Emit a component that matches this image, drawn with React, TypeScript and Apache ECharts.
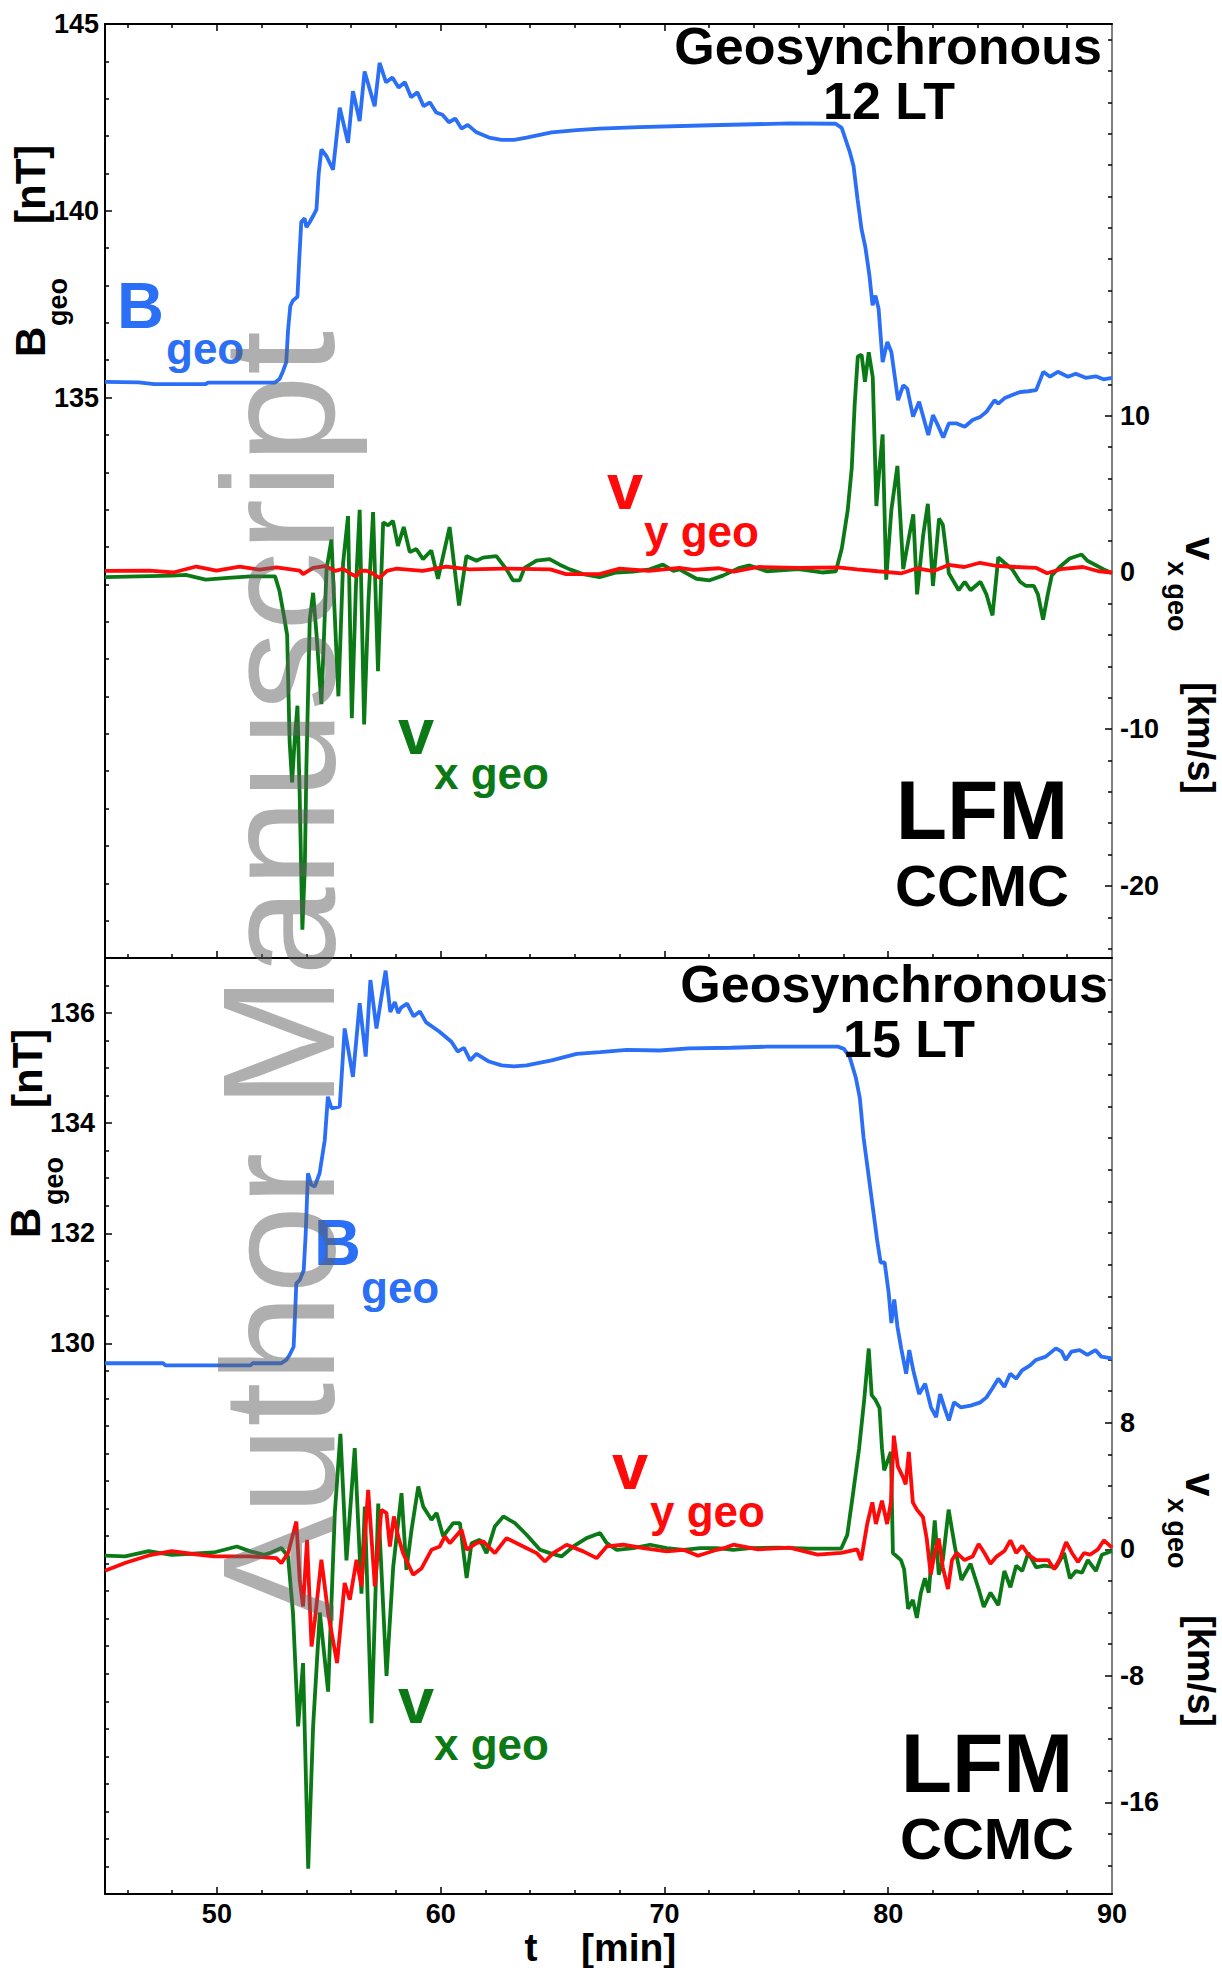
import React, { useEffect, useRef } from "react";
import * as echarts from "echarts";

// ---------- data (t [min], value) ----------
const bGeo12: [number, number][] = [
  [45, 135.42], [46.5, 135.41], [47.2, 135.36], [49.5, 135.36], [49.6, 135.4], [52.58, 135.4], [52.8, 135.5],
  [52.95, 135.7], [53.1, 135.95], [53.18, 136.8], [53.28, 137.45], [53.4, 137.6], [53.6, 137.7], [53.68, 138.7],
  [53.77, 139.7], [53.92, 139.8], [54.0, 139.56], [54.15, 139.7], [54.3, 139.86], [54.45, 140.04], [54.55, 141.0],
  [54.67, 141.64], [54.9, 141.46], [55.19, 141.1], [55.49, 142.76], [55.86, 141.82], [56.08, 143.2], [56.38, 142.4],
  [56.6, 143.73], [57.05, 142.8], [57.27, 143.96], [57.56, 143.44], [57.84, 143.57], [58.12, 143.3], [58.4, 143.44],
  [58.68, 143.04], [58.96, 143.17], [59.24, 142.8], [59.52, 142.9], [59.8, 142.63], [60.08, 142.57], [60.37, 142.37],
  [60.65, 142.47], [60.93, 142.2], [61.21, 142.3], [61.6, 142.1], [62.16, 141.96], [62.72, 141.9], [63.28, 141.9],
  [63.84, 141.96], [64.96, 142.1], [66.08, 142.16], [67.1, 142.2], [68.88, 142.24], [72.07, 142.29], [75.6, 142.34],
  [77.65, 142.33], [77.92, 142.22], [78.27, 141.6], [78.45, 141.2], [78.63, 140.31], [78.81, 139.5], [78.98, 139.02],
  [79.16, 138.27], [79.3, 137.47], [79.43, 137.73], [79.57, 137.38], [79.75, 135.95], [79.96, 136.49], [80.14, 136.22],
  [80.44, 134.93], [80.67, 135.33], [80.85, 135.24], [81.11, 134.49], [81.38, 134.89], [81.79, 134.0], [82.0, 134.53],
  [82.21, 134.27], [82.46, 133.93], [82.71, 134.31], [83.06, 134.31], [83.42, 134.22], [83.77, 134.4], [84.13, 134.49],
  [84.39, 134.62], [84.75, 134.93], [84.92, 134.84], [85.19, 134.98], [85.54, 135.07], [85.9, 135.15], [86.25, 135.17],
  [86.61, 135.2], [86.93, 135.69], [87.23, 135.56], [87.58, 135.69], [88.03, 135.56], [88.38, 135.64], [88.82, 135.53],
  [89.27, 135.57], [89.62, 135.49], [90, 135.53],
];

const vxGeo12: [number, number][] = [
  [45, -0.3], [46.5, -0.25], [48, -0.2], [48.6, -0.15], [49.5, -0.45], [50.5, -0.35], [51.5, -0.25], [52.6, -0.25],
  [52.8, -1.2], [53.0, -2.8], [53.14, -4.0], [53.25, -10.8], [53.36, -13.4], [53.48, -10.6], [53.6, -8.5], [53.7, -14.2],
  [53.82, -22.8], [53.93, -18.8], [54.0, -12.4], [54.15, -3.0], [54.3, -1.3], [54.45, -3.9], [54.67, -8.4], [54.9, 0.2],
  [55.12, 2.1], [55.27, -2.8], [55.43, -7.9], [55.64, 0.6], [55.86, 3.6], [56.03, -9.3], [56.21, -1.0], [56.38, 4.0],
  [56.58, -9.7], [56.77, -1.9], [56.98, 3.85], [57.2, -6.3], [57.43, 3.2], [57.65, 3.0], [57.87, 3.3], [58.09, 1.7],
  [58.35, 2.9], [58.62, 1.3], [58.91, 1.5], [59.21, 0.85], [59.58, 1.4], [59.88, -0.4], [60.4, 2.9], [60.82, -2.1],
  [61.15, 1.05], [61.6, 0.75], [61.89, 0.95], [62.49, 1.05], [62.94, 0.2], [63.23, -0.5], [63.53, -0.5], [63.75, 0.3],
  [64.28, 0.75], [64.87, 0.85], [65.32, 0.5], [65.77, 0.2], [66.36, -0.1], [67.1, -0.3], [67.85, 0.0], [68.6, 0.05],
  [69.34, 0.2], [69.93, 0.5], [70.4, 0.1], [70.67, 0.2], [71.43, -0.4], [72.02, -0.5], [72.61, -0.2], [73.36, 0.3],
  [73.8, 0.45], [74.57, 0.08], [75.98, 0.21], [77.04, 0.0], [77.66, 0.08], [77.93, 1.56], [78.19, 3.98], [78.37, 6.66],
  [78.5, 10.7], [78.64, 13.78], [78.81, 13.9], [78.96, 12.17], [79.13, 14.05], [79.31, 12.44], [79.47, 4.24],
  [79.61, 6.66], [79.75, 8.81], [79.91, -0.46], [80.14, 3.98], [80.41, 6.8], [80.67, 0.21], [80.94, 2.36], [81.12, 3.71],
  [81.29, -1.4], [81.56, 2.36], [81.77, 4.38], [82.0, -0.86], [82.27, 3.44], [82.44, 3.04], [82.71, -0.05], [83.15, -1.13],
  [83.42, -0.59], [83.68, -1.13], [84.12, -0.59], [84.39, -1.4], [84.66, -2.74], [84.92, 0.97], [85.19, 0.62],
  [85.54, 0.21], [85.89, -0.59], [86.16, -0.86], [86.51, -0.86], [86.69, -1.4], [86.92, -3.01], [87.13, -1.4],
  [87.31, -0.19], [87.66, 0.35], [88.11, 0.89], [88.37, 1.02], [88.64, 1.15], [88.9, 0.75], [89.26, 0.48], [89.61, 0.21],
  [90, -0.05],
];

const vyGeo12: [number, number][] = [
  [45, 0.1], [47, 0.12], [48.05, 0.0], [49.08, 0.38], [49.98, 0.12], [51.02, 0.38], [51.9, 0.18], [52.66, 0.32],
  [53.3, 0.2], [53.7, 0.12], [53.85, -0.1], [54.3, 0.3], [54.82, 0.41], [55.3, 0.1], [55.64, 0.24], [56.0, -0.1],
  [56.23, -0.25], [56.4, 0.1], [56.68, 0.12], [57.0, -0.1], [57.27, -0.35], [57.6, 0.1], [58.0, 0.24], [59.2, 0.1],
  [60.25, 0.38], [61.3, 0.2], [62.8, 0.25], [64.9, 0.2], [65.6, -0.1], [67.1, -0.1], [68.0, 0.25], [69.3, 0.1],
  [70.67, 0.3], [71.3, 0.17], [72.44, 0.27], [73.1, 0.05], [74.2, 0.35], [76, 0.3], [77.75, 0.32], [78.6, 0.2],
  [79.52, 0.08], [80.6, -0.05], [81.3, 0.27], [82.0, 0.08], [82.7, 0.48], [83.4, 0.35], [84.1, 0.62], [84.8, 0.43],
  [85.7, 0.35], [86.6, 0.3], [87.1, -0.05], [87.7, 0.21], [88.7, 0.35], [89.4, 0.08], [90, 0.0],
];

const bGeo15: [number, number][] = [
  [45, 129.64], [47.6, 129.64], [47.7, 129.6], [51.5, 129.6], [51.6, 129.64], [52.88, 129.64], [53.1, 129.7],
  [53.25, 129.79], [53.43, 129.94], [53.5, 130.6], [53.55, 131.09], [53.7, 131.15], [53.88, 131.33], [53.97, 132.0],
  [54.07, 133.09], [54.22, 132.88], [54.37, 132.85], [54.59, 133.09], [54.82, 133.69], [54.96, 134.48], [55.12, 134.27],
  [55.49, 134.3], [55.71, 135.72], [56.08, 134.84], [56.38, 136.18], [56.65, 135.21], [56.86, 136.6], [57.13, 135.72],
  [57.54, 136.77], [57.75, 136.02], [57.95, 136.2], [58.1, 136.0], [58.23, 136.1], [58.5, 136.17], [58.79, 135.94],
  [59.07, 136.03], [59.35, 135.83], [59.92, 135.67], [60.48, 135.48], [60.76, 135.3], [61.04, 135.37], [61.32, 135.14],
  [61.6, 135.26], [62.16, 135.12], [62.72, 135.05], [63.28, 135.03], [63.84, 135.05], [64.96, 135.14], [66.08, 135.26],
  [67.13, 135.29], [68.33, 135.33], [69.79, 135.32], [71.1, 135.36], [72.97, 135.37], [74.57, 135.39], [77.75, 135.39],
  [78.02, 135.35], [78.28, 135.2], [78.55, 134.83], [78.73, 134.46], [78.9, 133.73], [79.08, 133.18], [79.2, 132.81],
  [79.38, 132.26], [79.52, 131.83], [79.66, 131.47], [79.84, 131.47], [80.02, 130.92], [80.14, 130.37], [80.27, 130.8],
  [80.41, 130.31], [80.58, 129.91], [80.8, 129.45], [80.94, 129.88], [81.12, 129.51], [81.38, 129.08], [81.65, 129.27],
  [81.91, 128.84], [82.14, 128.66], [82.32, 129.08], [82.53, 128.81], [82.71, 128.6], [82.94, 128.93], [83.24, 128.84],
  [83.68, 128.87], [84.12, 128.93], [84.39, 129.02], [84.65, 129.18], [84.92, 129.36], [85.19, 129.21], [85.45, 129.45],
  [85.72, 129.36], [85.98, 129.51], [86.34, 129.6], [86.6, 129.7], [87.04, 129.76], [87.49, 129.91], [87.75, 129.85],
  [87.93, 129.7], [88.19, 129.85], [88.55, 129.88], [88.9, 129.79], [89.26, 129.88], [89.52, 129.76], [90, 129.73],
];

const vxGeo15: [number, number][] = [
  [45, -0.4], [45.9, -0.45], [46.95, -0.12], [47.98, -0.35], [49.86, -0.2], [50.89, 0.18], [51.5, -0.13], [52.1, -0.35],
  [52.36, -0.24], [52.88, 0.08], [53.18, -0.45], [53.4, -4.0], [53.63, -11.2], [53.85, -7.2], [54.08, -20.2],
  [54.3, -11.2], [54.6, -4.0], [54.97, -9.0], [55.27, 2.3], [55.52, 7.3], [55.79, -0.7], [56.16, 6.4], [56.46, -2.8],
  [56.61, 2.7], [56.91, -11.0], [57.21, 2.9], [57.58, -8.0], [57.88, -1.1], [58.25, 3.55], [58.47, -1.3], [58.7, 1.25],
  [59.0, 3.97], [59.22, 2.7], [59.59, 1.87], [59.82, 2.3], [60.11, 0.82], [60.56, 1.66], [60.86, 1.66], [61.16, -1.82],
  [61.38, 0.39], [61.75, 0.6], [62.05, -0.24], [62.42, 1.45], [62.8, 2.08], [63.32, 1.66], [63.84, 0.92], [64.44, -0.03],
  [64.88, -0.24], [65.4, -0.45], [65.93, 0.18], [66.52, 0.71], [67.12, 1.03], [67.42, 0.39], [67.87, -0.03], [68.61, 0.08],
  [69.36, 0.29], [70.1, 0.08], [70.85, -0.03], [71.59, 0.08], [72.34, 0.08], [73.08, -0.03], [73.83, 0.08], [75.06, 0.11],
  [76.5, 0.05], [77.9, 0.05], [78.17, 0.91], [78.44, 3.65], [78.7, 6.4], [78.93, 9.5], [79.13, 12.7], [79.26, 9.75],
  [79.43, 9.45], [79.61, 8.94], [79.72, 6.4], [79.82, 5.0], [80.12, 6.16], [80.21, -0.23], [80.57, -0.68], [80.71, -1.26],
  [80.89, -3.77], [81.1, -3.2], [81.28, -4.34], [81.46, -2.74], [81.64, -1.83], [81.81, -2.74], [82.08, 1.83],
  [82.26, -1.6], [82.44, -0.68], [82.7, 2.51], [82.97, 0.23], [83.27, -1.94], [83.68, -0.91], [84.04, -2.51],
  [84.27, -3.65], [84.57, -2.74], [84.92, -3.54], [85.19, -1.37], [85.46, -2.4], [85.72, -1.03], [85.99, -1.37],
  [86.26, -0.23], [86.61, -1.14], [86.97, -1.03], [87.5, -1.14], [87.86, -0.23], [88.12, -1.83], [88.39, -1.37],
  [88.66, -1.48], [88.92, -0.68], [89.28, -1.37], [89.55, -0.34], [90, -0.11],
];

const vyGeo15: [number, number][] = [
  [45, -1.35], [45.92, -0.85], [46.95, -0.39], [47.98, -0.12], [48.84, -0.28], [49.86, -0.44], [51.47, -0.45],
  [52.66, -0.56], [52.88, -0.87], [53.18, -0.24], [53.55, 1.76], [53.7, -1.92], [53.85, -3.61], [54.03, 0.6],
  [54.23, -6.14], [54.38, -4.45], [54.67, -0.66], [54.97, -4.03], [55.37, -7.19], [55.71, -2.13], [55.94, -3.19],
  [56.24, -0.66], [56.46, -2.34], [56.76, 3.76], [57.06, -2.34], [57.35, 2.5], [57.58, 2.29], [57.73, 0.18], [57.91, 2.08],
  [58.1, 0.82], [58.32, -0.24], [58.77, -1.61], [59.15, -1.19], [59.59, -0.03], [59.96, 0.18], [60.19, 0.82],
  [60.41, 0.39], [60.93, 1.24], [61.16, -0.03], [61.6, 0.39], [61.9, 0.5], [62.42, -0.24], [62.94, 0.71], [63.69, 0.18],
  [64.29, -0.24], [64.66, -0.77], [65.03, -0.24], [65.63, 0.29], [66.37, -0.13], [66.97, -0.56], [67.42, 0.18],
  [68.16, 0.29], [69.06, 0.08], [70.1, -0.13], [70.85, -0.03], [71.5, -0.41], [72.34, -0.03], [72.75, 0.11], [73.08, 0.29],
  [74.17, 0], [75.59, 0.11], [76.84, -0.34], [77.9, -0.23], [78.61, 0], [78.79, -0.68], [79.06, 1.6], [79.29, 2.97],
  [79.45, 1.6], [79.72, 3.08], [79.95, 1.6], [80.12, 2.97], [80.25, 7.19], [80.43, 5.25], [80.66, 4.57], [80.78, 4.11],
  [80.92, 6.16], [81.1, 2.97], [81.28, 2.51], [81.55, 2.05], [81.72, 0.68], [81.9, -1.6], [82.08, -0.23], [82.26, 0.68],
  [82.44, -1.14], [82.67, -2.51], [82.85, -0.68], [83.06, -0.23], [83.41, -0.68], [83.77, -0.46], [84.04, 0.34],
  [84.3, -0.23], [84.57, -0.91], [84.84, -0.46], [85.19, -0.11], [85.46, 0.57], [85.72, -0.23], [85.99, 0.23],
  [86.26, -0.34], [86.61, -0.68], [87.15, -0.68], [87.42, -1.26], [87.68, -0.57], [87.95, 0.46], [88.21, -0.23],
  [88.48, -0.8], [88.75, -0.23], [89.02, -0.34], [89.37, 0], [89.64, 0.57], [90, 0.11],
];

// ---------- tick labels ----------
const xLabels = [50, 60, 70, 80, 90];
const xMajor = [50, 60, 70, 80];
const b12Labels = [135, 140, 145];
const v12Labels = [-20, -10, 0, 10];
const b15Labels = [130, 132, 134, 136];
const v15Labels = [-16, -8, 0, 8];

const range = (a: number, b: number, s: number) => {
  const out: number[] = [];
  for (let v = a; v <= b + 1e-9; v += s) out.push(Math.round(v * 100) / 100);
  return out;
};

const FONT = '"Liberation Sans", Arial, Helvetica, sans-serif';
const BLUE = "#2a6ff6";
const GREEN = "#0b7a16";
const RED = "#ff0a0a";

function xAx(grid: number, position: string, ticks: number[], len: number, line: boolean, labels?: number[]) {
  return {
    type: "value", gridIndex: grid, position, min: 45, max: 90,
    axisLine: { show: line, onZero: false, lineStyle: { color: "#000", width: 2 } },
    axisTick: { show: true, inside: true, length: len, customValues: ticks, lineStyle: { color: "#000", width: 1.5 } },
    axisLabel: labels
      ? { show: true, customValues: labels, fontSize: 27, fontWeight: "bold", fontFamily: FONT, color: "#000", margin: 6 }
      : { show: false },
    splitLine: { show: false },
  };
}

function yAx(grid: number, position: string, min: number, max: number, ticks: number[], len: number, line: boolean,
  lineColor: string, labels?: number[], margin = 6) {
  return {
    type: "value", gridIndex: grid, position, min, max,
    axisLine: { show: line, onZero: false, lineStyle: { color: lineColor, width: 2 } },
    axisTick: { show: true, inside: true, length: len, customValues: ticks, lineStyle: { color: "#000", width: 1.5 } },
    axisLabel: labels
      ? { show: true, customValues: labels, fontSize: 27, fontWeight: "bold", fontFamily: FONT, color: "#000", margin }
      : { show: false },
    splitLine: { show: false },
  };
}

function txt(text: string, x: number, y: number, size: number, color: string, align = "left", rotation = 0) {
  return {
    type: "text", x, y, rotation, z: 50, silent: true,
    style: { text, fill: color, fontSize: size, fontWeight: "bold", fontFamily: FONT, align, verticalAlign: "middle" },
  };
}

const line = (data: [number, number][], xi: number, yi: number, color: string, z: number) => ({
  type: "line", xAxisIndex: xi, yAxisIndex: yi, data, showSymbol: false, symbol: "none", silent: true, z,
  lineStyle: { color, width: 3.8 }, itemStyle: { color }, animation: false,
});

export default function App() {
  const ref = useRef<HTMLDivElement>(null);
  useEffect(() => {
    if (!ref.current) return;
    const chart = echarts.init(ref.current, undefined, { renderer: "svg" });
    const xMinor = range(46, 88, 2).filter((v) => !xMajor.includes(v));
    const up = Math.PI / 2;
    const down = -Math.PI / 2;
    chart.setOption({
      animation: false,
      backgroundColor: "#fff",
      grid: [
        { left: 105, top: 24, width: 1007, height: 934, outerBoundsMode: "none" },
        { left: 105, top: 958, width: 1007, height: 936, outerBoundsMode: "none" },
      ],
      xAxis: [
        xAx(0, "bottom", xMajor, 7, true),
        xAx(0, "bottom", xMinor, 4, false),
        xAx(0, "top", xMajor, 7, true),
        xAx(0, "top", xMinor, 4, false),
        xAx(1, "bottom", xMajor, 7, true, xLabels),
        xAx(1, "bottom", xMinor, 4, false),
      ],
      yAxis: [
        yAx(0, "left", 120, 145, b12Labels, 7, true, "#000", b12Labels, 6),
        yAx(0, "left", 120, 145, range(120, 145, 1).filter((v) => !b12Labels.includes(v)), 4, false, "#000"),
        yAx(0, "right", -24.6, 35, v12Labels, 7, true, "#808080", v12Labels, 8),
        yAx(0, "right", -24.6, 35, range(-24, 34, 2).filter((v) => !v12Labels.includes(v)), 4, false, "#808080"),
        yAx(1, "left", 120, 137, b15Labels, 7, true, "#000", b15Labels, 10),
        yAx(1, "left", 120, 137, range(120, 137, 0.5).filter((v) => !b15Labels.includes(v)), 4, false, "#000"),
        yAx(1, "right", -21.8, 37.4, v15Labels, 7, true, "#808080", v15Labels, 8),
        yAx(1, "right", -21.8, 37.4, range(-20, 36, 2).filter((v) => !v15Labels.includes(v)), 4, false, "#808080"),
      ],
      series: [
        line(vxGeo12, 0, 2, GREEN, 2),
        line(vyGeo12, 0, 2, RED, 3),
        line(bGeo12, 0, 0, BLUE, 4),
        line(vxGeo15, 4, 6, GREEN, 2),
        line(vyGeo15, 4, 6, RED, 3),
        line(bGeo15, 4, 4, BLUE, 4),
      ],
      graphic: [
        // watermark
        {
          type: "text", x: 279, y: 976, rotation: up, z: 100, silent: true,
          style: {
            text: "Author Manuscript", fill: "rgba(95,95,95,0.5)", fontSize: 159, fontWeight: "normal",
            fontFamily: FONT, align: "center", verticalAlign: "middle",
          },
        },
        // panel 1 annotations
        txt("Geosynchronous", 1102, 46, 52, "#000", "right"),
        txt("12 LT", 889, 101, 52, "#000", "center"),
        txt("LFM", 982, 810, 84, "#000", "center"),
        txt("CCMC", 982, 885, 58, "#000", "center"),
        txt("B", 117, 305, 65, BLUE),
        txt("geo", 166, 348, 44, BLUE),
        txt("v", 607, 486, 65, RED),
        txt("y geo", 644, 531, 44, RED),
        txt("v", 398, 731, 65, GREEN),
        txt("x geo", 434, 773, 44, GREEN),
        // panel 2 annotations
        txt("Geosynchronous", 1108, 984, 52, "#000", "right"),
        txt("15 LT", 909, 1039, 52, "#000", "center"),
        txt("LFM", 987, 1763, 84, "#000", "center"),
        txt("CCMC", 987, 1838, 58, "#000", "center"),
        txt("B", 314, 1242, 65, BLUE),
        txt("geo", 361, 1287, 44, BLUE),
        txt("v", 612, 1466, 65, RED),
        txt("y geo", 650, 1511, 44, RED),
        txt("v", 398, 1700, 65, GREEN),
        txt("x geo", 434, 1744, 44, GREEN),
        // left axis titles (rotated, reading upward)
        txt("B", 30, 357, 42, "#000", "left", up),
        txt("geo", 58, 326, 27, "#000", "left", up),
        txt("[nT]", 30, 224, 42, "#000", "left", up),
        txt("B", 25, 1238, 42, "#000", "left", up),
        txt("geo", 54, 1205, 27, "#000", "left", up),
        txt("[nT]", 27, 1108, 42, "#000", "left", up),
        // right axis titles (rotated, reading downward)
        txt("v", 1200, 537, 42, "#000", "left", down),
        txt("x geo", 1177, 561, 27, "#000", "left", down),
        txt("[km/s]", 1201, 682, 38, "#000", "left", down),
        txt("v", 1200, 1473, 42, "#000", "left", down),
        txt("x geo", 1177, 1498, 27, "#000", "left", down),
        txt("[km/s]", 1201, 1615, 38, "#000", "left", down),
        // bottom axis title
        txt("t", 531, 1947, 39, "#000", "center"),
        txt("[min]", 581, 1947, 39, "#000", "left"),
      ],
    });
    return () => chart.dispose();
  }, []);
  return (
    <div
      ref={ref}
      style={{ position: "absolute", left: 0, top: 0, width: 1222, height: 1968, background: "#fff" }}
    />
  );
}
